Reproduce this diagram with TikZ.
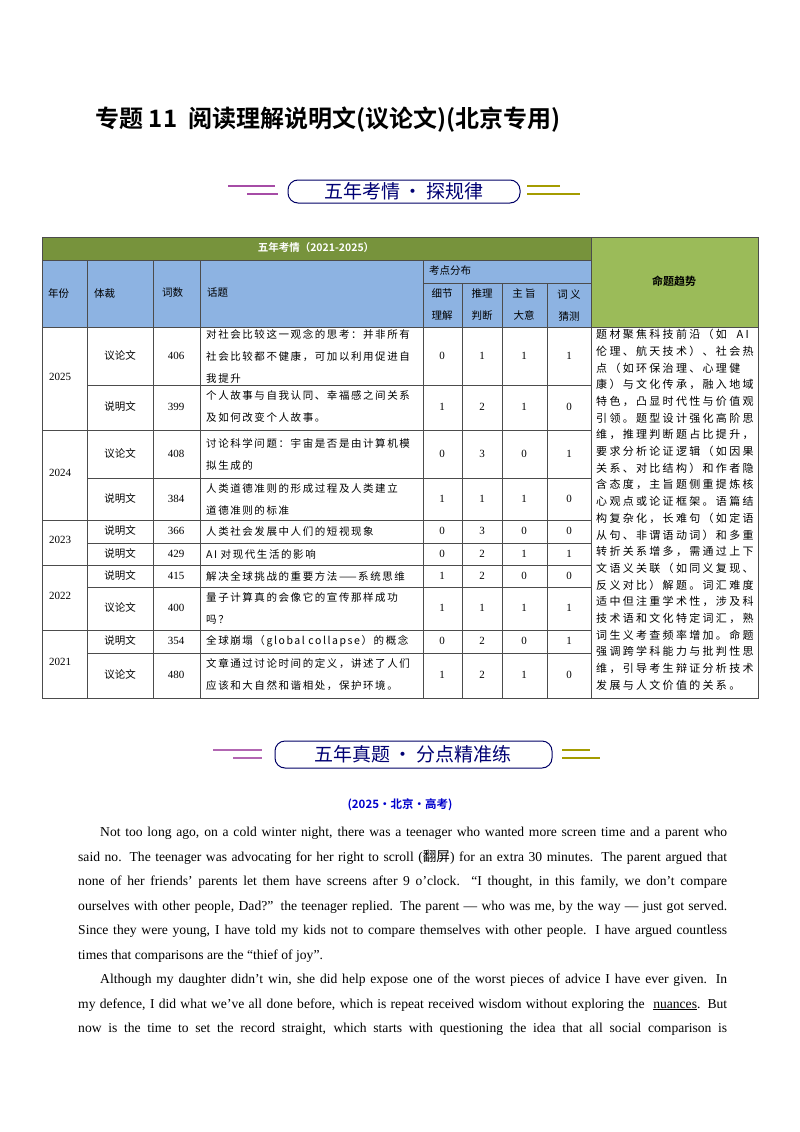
\documentclass[tikz,border=0pt]{standalone}
\usepackage{fontspec}
\setmainfont{Liberation Serif}
\newfontfamily\cjk{Noto Sans CJK SC}
\newfontfamily\cjkls{Noto Sans CJK SC}[LetterSpace=15]
\newfontfamily\cjktr{Noto Sans CJK SC}[LetterSpace=21]
\newfontfamily\cjkb{Noto Sans CJK SC}[BoldFont={* Bold}]
\definecolor{dgreen}{HTML}{77933C}
\definecolor{lgreen}{HTML}{9BBB59}
\definecolor{hblue}{HTML}{8DB3E2}
\begin{document}
\begin{tikzpicture}[x=1pt,y=-1pt,
  cell/.style={font=\cjk\fontsize{10.5}{17}\selectfont,inner sep=0pt},
  topic/.style={inner sep=0pt,font=\cjkls\fontsize{10.5}{22}\selectfont,anchor=west,text width=218pt,align=left},
  num/.style={font=\fontsize{11}{13}\selectfont,inner sep=0pt},
  body/.style={anchor=base west,inner sep=0pt,font=\fontsize{13.6}{15}\selectfont},
  bannerbox/.style={draw=blue!40!black,line width=1pt,rounded corners=10pt},
  bannertext/.style={font=\cjk\fontsize{19}{21}\selectfont,text=blue!45!black},
  grid/.style={draw=black!70,line width=0.6pt}]
\useasboundingbox (0,0) rectangle (800,1132);
\fill[white] (0,0) rectangle (800,1132);
% title
\node[font=\cjkb\bfseries\fontsize{24}{26}\selectfont,anchor=west] (title) at (92,120) {专题 11\ \ 阅读理解说明文(议论文)(北京专用)};
% banner 1
\draw[bannerbox] (288,180) rectangle (520,203);
\node[bannertext] (b1) at (404,191.5) {五年考情\,·\,探规律};
\foreach \y/\a/\b in {186/228/275,194/247/278} \draw[line width=2.2pt,violet!70] (\a,\y)--(\b,\y);
\foreach \y/\a/\b in {186/527/560,194/527/580} \draw[line width=2.2pt,olive!80!yellow] (\a,\y)--(\b,\y);
% table fills
\fill[dgreen] (42,237) rectangle (591,260);
\fill[lgreen] (591,237) rectangle (758,327);
\fill[hblue] (42,260) rectangle (591,327);
% grid
\draw[grid] (42,237) rectangle (758,698);
\draw[grid] (42,260)--(591,260);
\draw[grid] (423,283)--(591,283);
\draw[grid] (42,327)--(758,327);
\foreach \x in {87,153,200,423} \draw[grid] (\x,260)--(\x,698);
\foreach \x in {462,502,547} \draw[grid] (\x,283)--(\x,698);
\draw[grid] (591,237)--(591,698);
\foreach \y in {430,520,565,630} \draw[grid] (42,\y)--(591,\y);
\foreach \y in {385,478,543,587,653} \draw[grid] (87,\y)--(591,\y);
% header text
\node[font=\cjkb\bfseries\fontsize{10.5}{12}\selectfont,text=white] (h0) at (316,248) {五年考情（2021-2025）};
\node[font=\cjkb\bfseries\fontsize{11}{12}\selectfont] (h1) at (674,281) {命题趋势};
\node[cell,anchor=west] (h2) at (48,293) {年份};
\node[cell,anchor=west] (h3) at (94,293) {体裁};
\node[cell,anchor=west] (h4) at (162,293) {词数};
\node[cell,anchor=west] (h5) at (207,293) {话题};
\node[cell,anchor=west] (h6) at (429,271) {考点分布};
\node[cell,align=center,font=\cjk\fontsize{10.5}{22}\selectfont] (h7) at (442,305) {细节\\理解};
\node[cell,align=center,font=\cjk\fontsize{10.5}{22}\selectfont] (h8) at (482,305) {推理\\判断};
\node[cell,align=center,font=\cjk\fontsize{10.5}{22}\selectfont] (h9) at (524,305) {主\ 旨\\大意};
\node[cell,align=center,font=\cjk\fontsize{10.5}{22}\selectfont] (h10) at (569,305) {词\ 义\\猜测};
% years
\node[num] (y1) at (60,377) {2025};
\node[num] (y2) at (60,473) {2024};
\node[num] (y3) at (60,540) {2023};
\node[num] (y4) at (60,596) {2022};
\node[num] (y5) at (60,662) {2021};
% rows
\foreach \yy/\g/\n/\t/\a/\b/\c/\d [count=\i] in {
 356/议论文/406/{对社会比较这一观念的思考：并非所有\\社会比较都不健康，可加以利用促进自\\我提升}/0/1/1/1,
 407/说明文/399/{个人故事与自我认同、幸福感之间关系\\及如何改变个人故事。}/1/2/1/0,
 454/议论文/408/{讨论科学问题：宇宙是否是由计算机模\\拟生成的}/0/3/0/1,
 499/说明文/384/{人类道德准则的形成过程及人类建立\\道德准则的标准}/1/1/1/0,
 531/说明文/366/{人类社会发展中人们的短视现象}/0/3/0/0,
 554/说明文/429/{AI 对现代生活的影响}/0/2/1/1,
 576/说明文/415/{解决全球挑战的重要方法——系统思维}/1/2/0/0,
 608/议论文/400/{量子计算真的会像它的宣传那样成功\\吗？}/1/1/1/1,
 641/说明文/354/{全球崩塌（global collapse）的概念}/0/2/0/1,
 675/议论文/480/{文章通过讨论时间的定义，讲述了人们\\应该和大自然和谐相处，保护环境。}/1/2/1/0} {
 \node[cell] (g\i) at (120,\yy) {\g};
 \node[num] (n\i) at (176,\yy) {\n};
 \node[topic] (t\i) at (206,\yy) {\t};
 \node[num] (a\i) at (442,\yy) {\a};
 \node[num] (b\i) at (482,\yy) {\b};
 \node[num] (c\i) at (524,\yy) {\c};
 \node[num] (d\i) at (569,\yy) {\d};
}
% trend text
\node[inner sep=0pt,anchor=north west,align=left,font=\cjktr\fontsize{11}{16.7}\selectfont] (trend) at (596,329) {题材聚焦科技前沿（如\ \ AI\\伦理、航天技术）、社会热\\点（如环保治理、心理健\\康）与文化传承，融入地域\\特色，凸显时代性与价值观\\引领。题型设计强化高阶思\\维，推理判断题占比提升，\\要求分析论证逻辑（如因果\\关系、对比结构）和作者隐\\含态度，主旨题侧重提炼核\\心观点或论证框架。语篇结\\构复杂化，长难句（如定语\\从句、非谓语动词）和多重\\转折关系增多，需通过上下\\文语义关联（如同义复现、\\反义对比）解题。词汇难度\\适中但注重学术性，涉及科\\技术语和文化特定词汇，熟\\词生义考查频率增加。命题\\强调跨学科能力与批判性思\\维，引导考生辩证分析技术\\发展与人文价值的关系。};
% banner 2
\draw[bannerbox] (275,741) rectangle (552,768);
\node[bannertext] (b2) at (413,754.5) {五年真题\,·\,分点精准练};
\foreach \y/\a/\b in {750/213/262,758/233/262} \draw[line width=2.2pt,violet!60] (\a,\y)--(\b,\y);
\foreach \y/\a/\b in {750/562/590,758/562/600} \draw[line width=2.2pt,olive!80!yellow] (\a,\y)--(\b,\y);
% source
\node[font=\cjkb\bfseries\fontsize{11.5}{13}\selectfont,text=blue!80!black] (src) at (400,805) {(2025·北京·高考)};
% body
\node[body] (l1) at (100,836) {\makebox[627pt][s]{Not too long ago, on a cold winter night, there was a teenager who wanted more screen time and a parent who}};
\node[body] (l2) at (78,861) {\makebox[649pt][s]{said no. The teenager was advocating for her right to scroll ({\cjk 翻屏}) for an extra 30 minutes. The parent argued that}};
\node[body] (l3) at (78,885) {\makebox[649pt][s]{none of her friends’ parents let them have screens after 9 o’clock. “I thought, in this family, we don’t compare}};
\node[body] (l4) at (78,910) {\makebox[649pt][s]{ourselves with other people, Dad?” the teenager replied. The parent — who was me, by the way — just got served.}};
\node[body] (l5) at (78,934) {\makebox[649pt][s]{Since they were young, I have told my kids not to compare themselves with other people. I have argued countless}};
\node[body] (l6) at (78,959) {times that comparisons are the “thief of joy”.};
\node[body] (l7) at (100,983) {\makebox[627pt][s]{Although my daughter didn’t win, she did help expose one of the worst pieces of advice I have ever given. In}};
\node[body] (l8) at (78,1008) {\makebox[649pt][s]{my defence, I did what we’ve all done before, which is repeat received wisdom without exploring the \ \underline{nuances}. But}};
\node[body] (l9) at (78,1032) {\makebox[649pt][s]{now is the time to set the record straight, which starts with questioning the idea that all social comparison is}};
\end{tikzpicture}
\end{document}
